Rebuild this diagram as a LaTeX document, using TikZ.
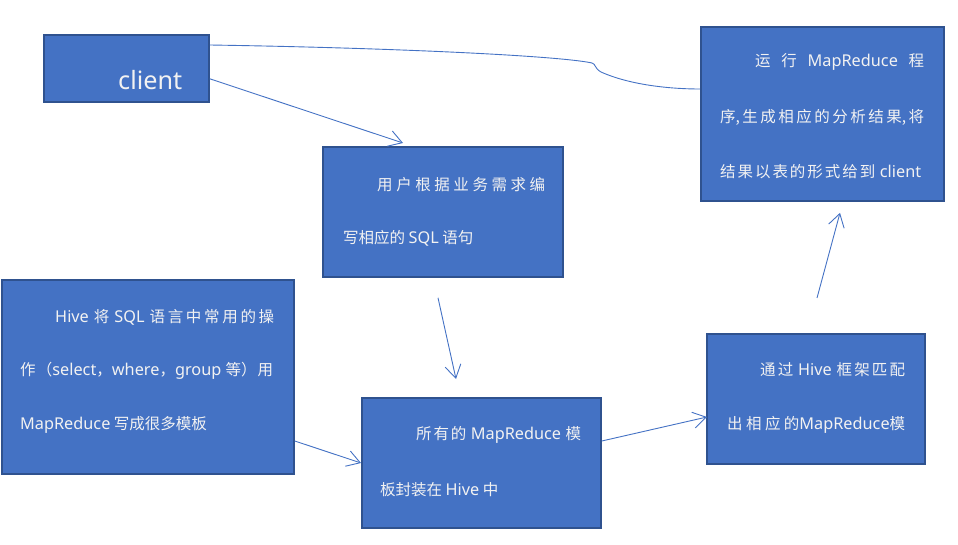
\documentclass[tikz,border=0pt]{standalone}
\usepackage{fontspec}
\setmainfont{Noto Sans CJK SC}
\newfontfamily\lat{Noto Sans}[Scale=1.05]
\usetikzlibrary{arrows.meta,calc}
\definecolor{boxfill}{HTML}{4472C4}
\definecolor{boxline}{HTML}{2F528F}
\definecolor{arr}{HTML}{4472C4}
\definecolor{txt}{HTML}{F2F2F2}
\XeTeXlinebreaklocale "zh"
\XeTeXlinebreakskip=0pt plus 3pt minus 0.3pt
\newcommand{\jl}[2]{\parbox[c]{#1}{\tolerance=9999\hbadness=10000\parfillskip=0pt\parindent=0pt\leavevmode #2}}
\begin{document}
\begin{tikzpicture}[x=1pt,y=-1pt,
  box/.style={draw=boxline, line width=1.8pt, fill=boxfill, anchor=north west, inner sep=0pt},
  tx/.style={text=txt, font=\fontsize{15.5}{18}\selectfont, inner sep=0pt, anchor=west},
  conn/.style={draw=arr, line width=0.9pt},
  arrowc/.style={conn, -{Straight Barb[length=13pt,width=16pt]}}]
\useasboundingbox (0,0) rectangle (958,545);

% boxes
\node[box, minimum width=165pt, minimum height=67pt] (client) at (43,34) {};
\node[box, minimum width=240pt, minimum height=130pt] (b2) at (322,146) {};
\node[box, minimum width=292pt, minimum height=194pt] (b3) at (1,279) {};
\node[box, minimum width=239pt, minimum height=130pt] (b4) at (361,397) {};
\node[box, minimum width=218pt, minimum height=130pt] (b5) at (706,333) {};
\node[box, minimum width=243pt, minimum height=174pt] (b6) at (700,26) {};

% texts
\node[tx, font=\lat\fontsize{24}{28}\selectfont] (tclient) at (118,80) {client};

\node[tx] (t21) at (377,185) {\jl{168pt}{用户根据业务需求编}};
\node[tx] (t22) at (343,238) {写相应的 {\lat SQL} 语句};

\node[tx] (t31) at (55,317) {\jl{219pt}{{\lat Hive} 将 {\lat SQL} 语言中常用的操}};
\node[tx] (t32) at (20,371) {\jl{253pt}{作（{\lat select}，{\lat where}，{\lat group} 等）用}};
\node[tx] (t33) at (20,425) {{\lat MapReduce} 写成很多模板};

\node[tx] (t41) at (416,435) {\jl{165pt}{所有的 {\lat MapReduce} 模}};
\node[tx] (t42) at (380,490) {板封装在 {\lat Hive} 中};

\node[tx] (t51) at (760,370) {\jl{145pt}{通过 {\lat Hive} 框架匹配}};
\node[tx] (t52) at (727,425) {\jl{178pt}{出相应的{\lat MapReduce}模}};

\node[tx] (t61) at (755,62) {\jl{169pt}{运 行 {\lat MapReduce} 程}};
\node[tx] (t62) at (720,117) {\jl{204pt}{序,生成相应的分析结果,将}};
\node[tx] (t63) at (720,172) {\jl{201pt}{结果以表的形式给到 {\lat client}}};

% connector coordinates
\coordinate (c1s) at ($(client.south east)+(0,-24)$);
\coordinate (c1e) at ($(b2.north west)+(81,-3)$);
\coordinate (cvs) at ($(client.north east)+(0,11)$);
\coordinate (cve) at ($(b6.north west)+(0,63)$);
\coordinate (c2s) at ($(b2.south west)+(116,20)$);
\coordinate (c2e) at ($(b4.north west)+(95,-18)$);
\coordinate (c3s) at ($(b3.north east)+(0,162)$);
\coordinate (c3e) at ($(b4.north west)+(0,66)$);
\coordinate (c4s) at ($(b4.north east)+(0,44)$);
\coordinate (c4e) at ($(b5.north west)+(1,84)$);
\coordinate (c5s) at ($(b5.north west)+(111,-35)$);
\coordinate (c5e) at ($(b6.south west)+(140,11)$);

% connectors
\draw[arrowc] (c1s) -- (c1e);
\draw[conn] (cvs) .. controls (400,48) and (560,56) .. (592,63)
  .. controls (596,64) and (594,68) .. (601,72)
  .. controls (630,85) and (670,89) .. (cve);
\draw[arrowc] (c2s) -- (c2e);
\draw[arrowc] (c3s) -- (c3e);
\draw[arrowc] (c4s) -- (c4e);
\draw[arrowc] (c5s) -- (c5e);
\end{tikzpicture}
\end{document}
